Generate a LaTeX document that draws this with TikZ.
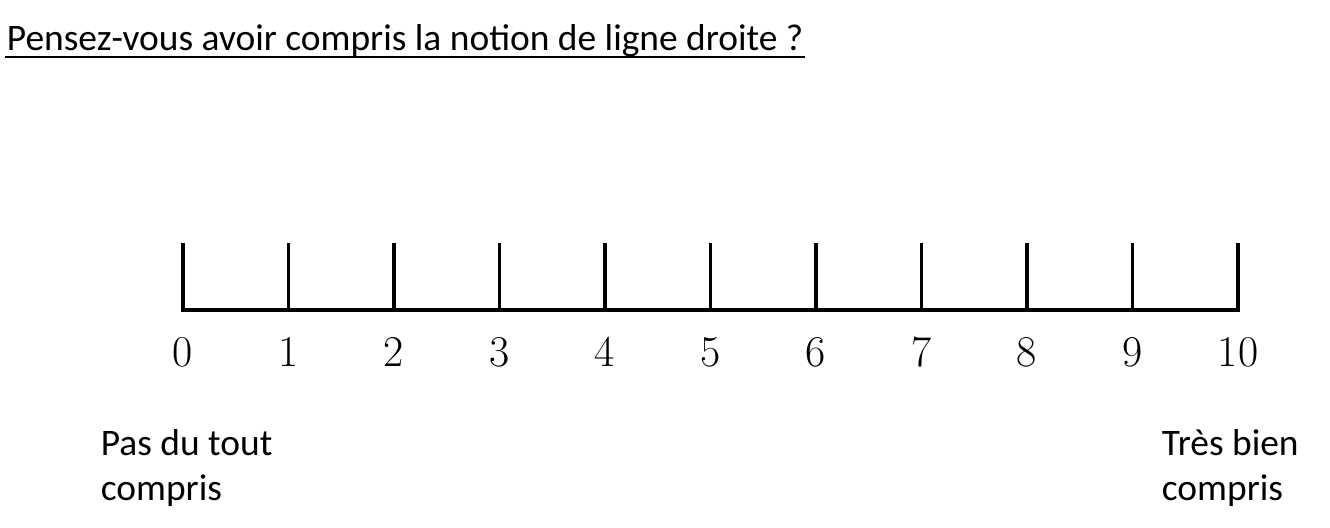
\documentclass[tikz,border=0pt]{standalone}
\usepackage{fontspec}
\setsansfont{Carlito}
\usepackage{tikz}
\usetikzlibrary{positioning}

\begin{document}
\begin{tikzpicture}[line width=2.2pt,
    lbl/.style={font=\sffamily\fontsize{21.3}{25.6}\selectfont, inner sep=0pt, align=left},
    num/.style={font=\fontsize{25}{28}\selectfont, inner sep=0pt}]
    \useasboundingbox (0,0) rectangle (26.6,-10.56);

    % Title
    \node[lbl, anchor=base west] (title) at (0.1,-1.0) {Pensez-vous avoir compris la notion de ligne droite ?};
    \draw[line width=1.4pt] ([yshift=-0.14cm]title.base west) -- ([yshift=-0.14cm]title.base east);

    % Scale
    \foreach \i in {0,...,10} {
        \coordinate (b\i) at (3.66+\i*2.11,-6.2);
        \coordinate (t\i) at (3.66+\i*2.11,-4.86);
        \draw (b\i) -- (t\i);
        \node[num] (n\i) at (3.66+\i*2.11,-7.04) {\i};
    }
    \draw[line cap=rect] (b0) -- (b10);

    % End labels
    \node[lbl, anchor=base west] (low) at (1.98,-10.0) {Pas du tout\\compris};
    \node[lbl, anchor=base west] (high) at (23.2,-10.0) {Très bien\\compris};
\end{tikzpicture}
\end{document}
